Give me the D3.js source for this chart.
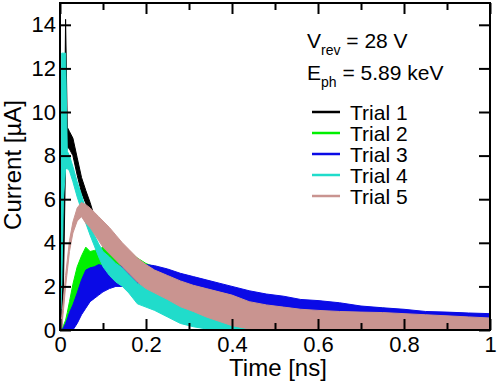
<!DOCTYPE html>
<html lang="en">
<head>
<meta charset="utf-8">
<title>Current vs time</title>
<script src="https://d3js.org/d3.v7.min.js"></script>
<style>
  body { margin: 0; background: #fff; }
  svg { display: block; font-family: "Liberation Sans", Arial, sans-serif; }
  .tick text { font-size: 22px; fill: #000; }
  .tick line { stroke: #000; stroke-width: 2px; }
  .lbl { font-size: 24px; fill: #000; }
  .leg { font-size: 21px; fill: #000; }
</style>
</head>
<body>
<svg width="498" height="384"></svg>
<script>
// time grid [ns] shared by all five traces; each trace is drawn as its noise band (lo..hi) in µA
const times = [0, 0.004, 0.008, 0.013, 0.017, 0.022, 0.03, 0.04, 0.05, 0.06,
  0.07, 0.08, 0.09, 0.1, 0.115, 0.13, 0.145, 0.16, 0.18, 0.2,
  0.22, 0.25, 0.28, 0.31, 0.34, 0.37, 0.4, 0.44, 0.48, 0.52,
  0.56, 0.6, 0.65, 0.7, 0.75, 0.8, 0.85, 0.9, 0.95, 1.0];

const trial1Hi = [0.5, 1.0, 5.0, 14.25, 9.3, 9.1, 8.8, 7.9, 7.0, 6.4,
  5.85, 5.2, 4.9, 4.6, 4.1, 3.7, 3.3, 3.0, 2.6, 2.2,
  1.9, 1.5, 1.2, 0.95, 0.8, 0.65, 0.5, 0.4, 0.35, 0.3,
  0.25, 0.25, 0.2, 0.2, 0.2, 0.2, 0.2, 0.2, 0.2, 0.15];
const trial1Lo = [0, 0, 2.0, 8.0, 8.4, 8.3, 8.0, 7.1, 6.3, 5.8,
  5.3, 4.8, 4.3, 3.9, 3.4, 3.0, 2.6, 2.3, 1.8, 1.3,
  1.0, 0.7, 0.4, 0.25, 0.1, 0, 0, 0, 0, 0,
  0, 0, 0, 0, 0, 0, 0, 0, 0, 0];

const trial2Hi = [0, 0, 0.2, 0.45, 0.8, 1.3, 2.1, 2.9, 3.4, 3.8,
  3.6, 3.65, 3.7, 3.8, 3.7, 3.75, 3.8, 3.6, 3.3, 3.05,
  2.9, 2.75, 2.55, 2.4, 2.25, 2.1, 1.95, 1.75, 1.6, 1.5,
  1.35, 1.3, 1.2, 1.05, 1.0, 0.9, 0.8, 0.8, 0.75, 0.7];
const trial2Lo = [0, 0, 0, 0, 0.1, 0.4, 0.8, 1.3, 1.7, 2.0,
  2.1, 2.2, 2.3, 2.35, 2.4, 2.4, 2.35, 2.3, 2.15, 2.0,
  1.9, 1.75, 1.6, 1.45, 1.3, 1.15, 1.0, 0.85, 0.75, 0.65,
  0.6, 0.5, 0.45, 0.4, 0.35, 0.3, 0.3, 0.25, 0.25, 0.2];

const trial3Hi = [0, 0, 0.1, 0.3, 0.5, 0.8, 1.15, 1.7, 2.3, 2.75,
  2.85, 2.9, 3.0, 2.95, 2.9, 2.9, 2.95, 3.0, 3.05, 3.0,
  2.95, 2.8, 2.6, 2.45, 2.3, 2.15, 2.0, 1.8, 1.65, 1.55,
  1.4, 1.35, 1.25, 1.1, 1.02, 0.95, 0.85, 0.82, 0.78, 0.75];
const trial3Lo = [0, 0, 0, 0, 0, 0, 0, 0.3, 0.7, 1.0,
  1.3, 1.45, 1.6, 1.75, 1.9, 2.0, 2.0, 2.0, 2.0, 1.95,
  1.9, 1.75, 1.6, 1.45, 1.3, 1.15, 1.0, 0.85, 0.75, 0.65,
  0.6, 0.5, 0.45, 0.4, 0.35, 0.3, 0.3, 0.25, 0.25, 0.2];

const trial4Hi = [0.5, 12.7, 12.7, 12.7, 8.2, 8.0, 7.5, 6.8, 6.2, 5.5,
  4.85, 4.35, 3.95, 3.6, 3.35, 3.05, 2.85, 2.55, 2.15, 1.95,
  1.75, 1.45, 1.2, 0.95, 0.7, 0.6, 0.5, 0.4, 0.3, 0.2,
  0.15, 0.1, 0.1, 0.1, 0.1, 0.1, 0.1, 0.1, 0.1, 0.1];
const trial4Lo = [0, 2.0, 6.0, 7.4, 7.4, 7.3, 6.8, 6.1, 5.5, 4.9,
  4.35, 3.85, 3.35, 2.9, 2.5, 2.2, 2.0, 1.7, 1.2, 1.05,
  0.9, 0.6, 0.3, 0.15, 0.05, 0, 0, 0, 0, 0,
  0, 0, 0, 0, 0, 0, 0, 0, 0, 0];

const trial5Hi = [0.2, 0.6, 1.4, 2.5, 3.2, 4.1, 4.95, 5.6, 5.85, 5.75,
  5.6, 5.4, 5.2, 5.0, 4.7, 4.35, 4.0, 3.7, 3.3, 3.0,
  2.75, 2.5, 2.25, 2.05, 1.9, 1.75, 1.6, 1.3, 1.15, 1.05,
  0.95, 0.9, 0.85, 0.82, 0.8, 0.75, 0.7, 0.65, 0.6, 0.55];
const trial5Lo = [0, 0.1, 0.9, 2.0, 2.7, 3.6, 4.45, 5.0, 5.2, 4.9,
  4.7, 4.4, 4.1, 3.8, 3.5, 3.2, 2.9, 2.6, 2.2, 1.9,
  1.7, 1.4, 1.07, 0.85, 0.6, 0.4, 0.2, 0.05, 0, 0,
  0, 0, 0, 0, 0, 0, 0, 0, 0, 0];

const trialNames = ["Trial 1", "Trial 2", "Trial 3", "Trial 4", "Trial 5"];
const trialColors = ["#000000", "#00f000", "#0a0ae6", "#20dccb", "#c99490"];
const xMajor = [0, 0.2, 0.4, 0.6, 0.8, 1];
const xMinor = [0.1, 0.3, 0.5, 0.7, 0.9];
const yTicks = [0, 2, 4, 6, 8, 10, 12, 14];

const series = [
  [trial1Lo, trial1Hi], [trial2Lo, trial2Hi], [trial3Lo, trial3Hi],
  [trial4Lo, trial4Hi], [trial5Lo, trial5Hi]
];

const padL = 60, padR = 490, padT = 3, padB = 330;
const svg = d3.select("svg");

const x = d3.scaleLinear().domain([0, 1]).range([padL, padR]);
const y = d3.scaleLinear().domain([0, 15]).range([padB, padT]);

svg.append("clipPath").attr("id", "plotclip")
   .append("rect").attr("x", padL).attr("y", padT)
   .attr("width", padR - padL).attr("height", padB - padT);

const band = d3.area()
  .x(d => x(d.t))
  .y0(d => y(d.lo))
  .y1(d => y(d.hi));

const plot = svg.append("g").attr("clip-path", "url(#plotclip)");
series.forEach((s, k) => {
  const pts = times.map((t, i) => ({t: t, lo: s[0][i], hi: s[1][i]}));
  plot.append("path")
      .attr("d", band(pts))
      .attr("fill", trialColors[k])
      .attr("stroke", trialColors[k])
      .attr("stroke-width", 1)
      .attr("stroke-linejoin", "round");
});

// axes, ticks pointing inward
function clean(g) {
  g.select(".domain").remove();
  g.attr("font-size", null).attr("font-family", null);
}

svg.append("g").attr("transform", `translate(0,${padB})`)
   .call(d3.axisBottom(x).tickValues(xMajor).tickSizeInner(-11).tickSizeOuter(0)
         .tickPadding(6).tickFormat(d => String(d)))
   .call(clean);
svg.append("g").attr("transform", `translate(0,${padB})`)
   .call(d3.axisBottom(x).tickValues(xMinor).tickSizeInner(-7).tickSizeOuter(0).tickFormat(""))
   .call(clean);
svg.append("g").attr("transform", `translate(0,${padT})`)
   .call(d3.axisTop(x).tickValues(xMajor).tickSizeInner(-11).tickSizeOuter(0).tickFormat(""))
   .call(clean);
svg.append("g").attr("transform", `translate(0,${padT})`)
   .call(d3.axisTop(x).tickValues(xMinor).tickSizeInner(-7).tickSizeOuter(0).tickFormat(""))
   .call(clean);
svg.append("g").attr("transform", `translate(${padL},0)`)
   .call(d3.axisLeft(y).tickValues(yTicks).tickSizeInner(-11).tickSizeOuter(0).tickPadding(4))
   .call(clean);
svg.append("g").attr("transform", `translate(${padR},0)`)
   .call(d3.axisRight(y).tickValues(yTicks).tickSizeInner(-11).tickSizeOuter(0).tickFormat(""))
   .call(clean);

svg.append("rect")
   .attr("x", padL).attr("y", padT)
   .attr("width", padR - padL).attr("height", padB - padT)
   .attr("fill", "none").attr("stroke", "#000").attr("stroke-width", 2);

// axis titles
svg.append("text").attr("class", "lbl")
   .attr("x", (padL + padR) / 2 + 3).attr("y", 376)
   .attr("text-anchor", "middle")
   .text("Time [ns]");
svg.append("text").attr("class", "lbl")
   .attr("transform", "translate(21,165) rotate(-90)")
   .attr("text-anchor", "middle")
   .text("Current [µA]");

// annotations
const v = svg.append("text").attr("class", "leg").attr("x", 307).attr("y", 48);
v.append("tspan").text("V");
v.append("tspan").attr("font-size", 14).attr("dy", 7).text("rev");
v.append("tspan").attr("dy", -7).text(" = 28 V");
const e = svg.append("text").attr("class", "leg").attr("x", 307).attr("y", 80);
e.append("tspan").text("E");
e.append("tspan").attr("font-size", 14).attr("dy", 7).text("ph");
e.append("tspan").attr("dy", -7).text(" = 5.89 keV");

// legend
const leg = svg.append("g");
trialNames.forEach((name, i) => {
  const yy = 112 + i * 21;
  leg.append("line")
     .attr("x1", 312).attr("x2", 340).attr("y1", yy).attr("y2", yy)
     .attr("stroke", trialColors[i]).attr("stroke-width", 2.5);
  leg.append("text").attr("class", "leg")
     .attr("x", 350).attr("y", yy + 7.5)
     .text(name);
});
</script>
</body>
</html>
